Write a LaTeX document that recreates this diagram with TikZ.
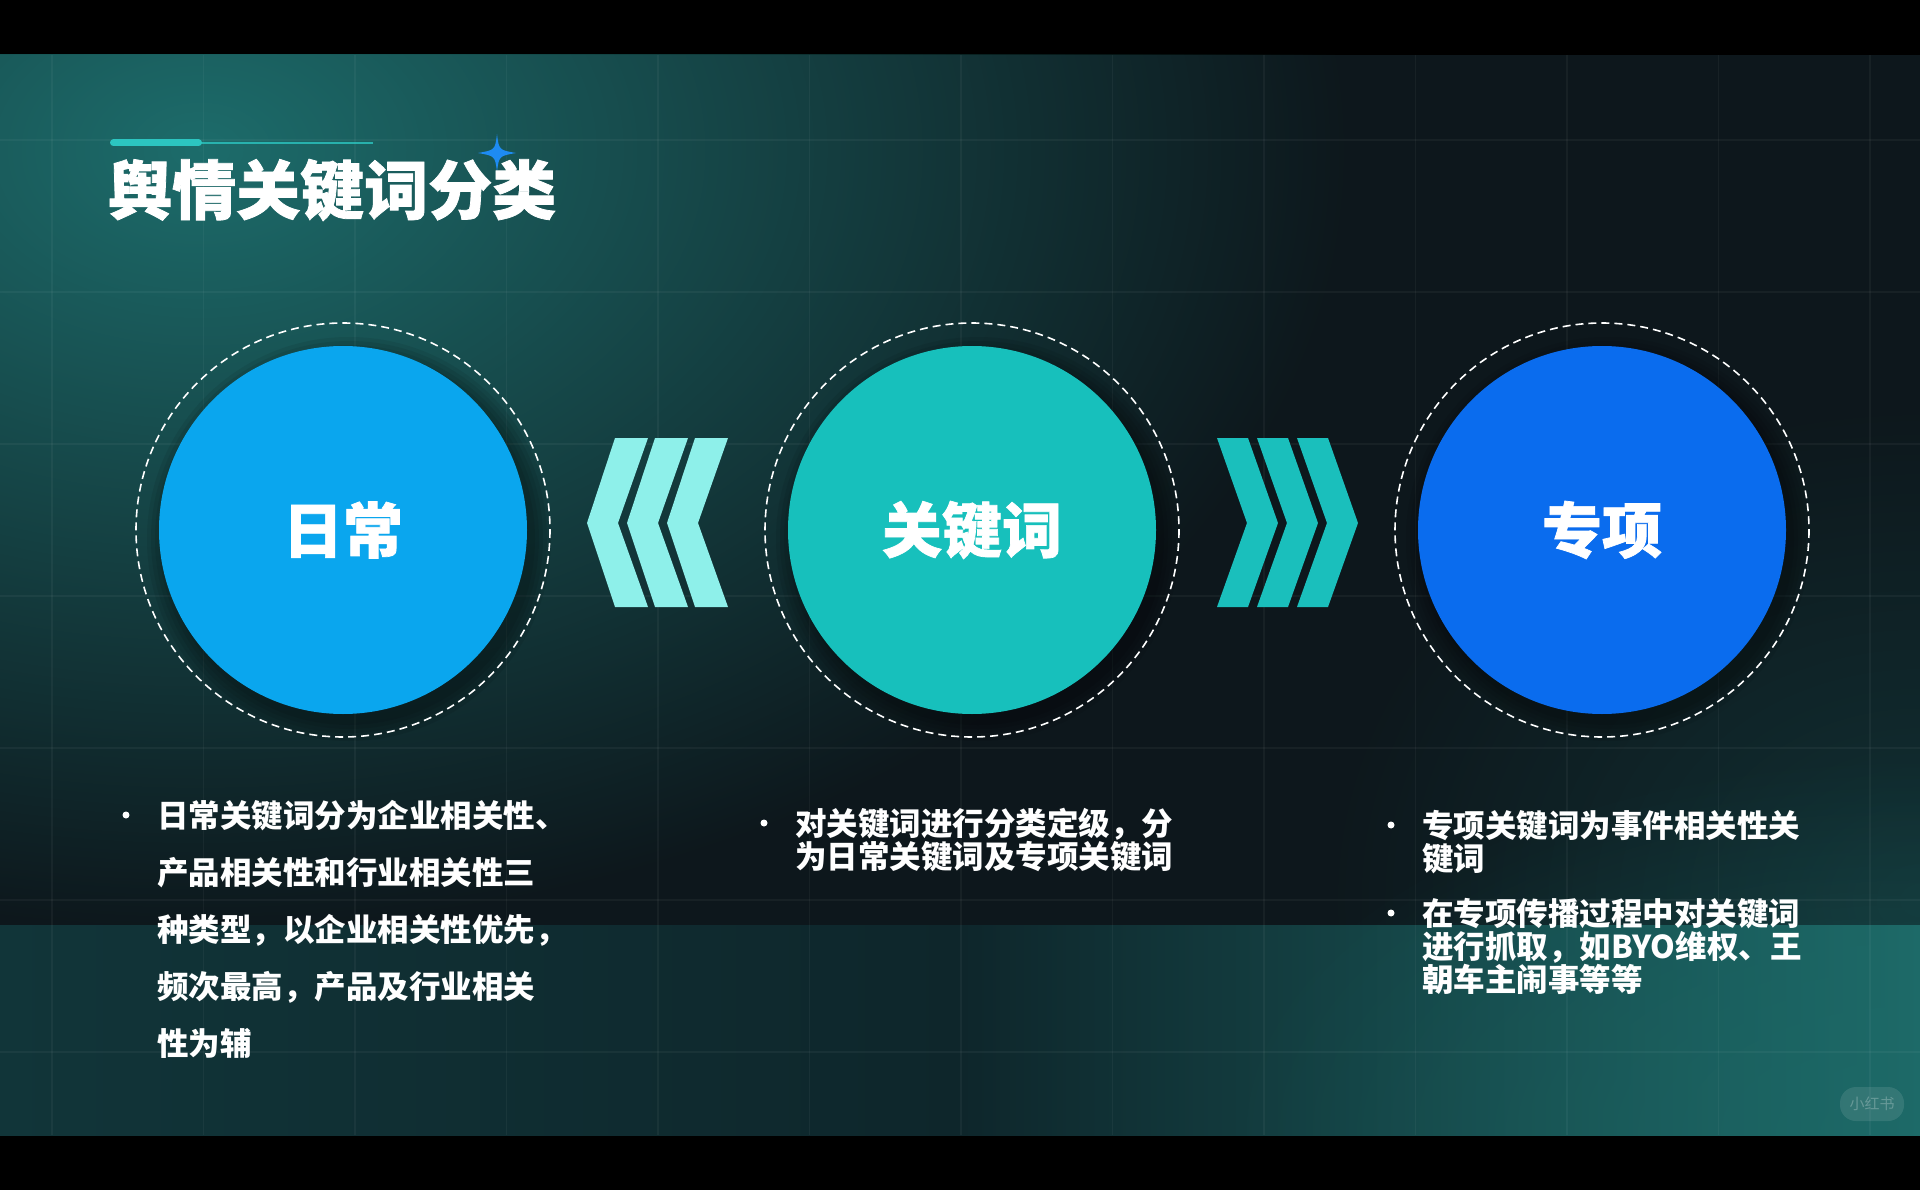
\documentclass[tikz,border=0pt]{standalone}
\usepackage{fontspec}
\newfontfamily\cjk{Noto Sans CJK SC}
\newfontfamily\cjkheavy{Noto Sans CJK SC}[BoldFeatures={FakeBold=1.2}]
\usetikzlibrary{fadings}

\tikzfading[name=glowfade, inner color=transparent!0, outer color=transparent!100]

\definecolor{bgbase}{HTML}{0D171C}
\definecolor{glowteal}{HTML}{1D6C6B}
\definecolor{bandleft}{HTML}{113539}
\definecolor{bandmid}{HTML}{0E262B}
\definecolor{bandright}{HTML}{1D6A68}
\definecolor{dailyblue}{HTML}{0AA6EE}
\definecolor{keyteal}{HTML}{17C0BC}
\definecolor{specialblue}{HTML}{0A6CEE}
\definecolor{chevlight}{HTML}{8EF0EA}
\definecolor{chevdark}{HTML}{1ABFBC}
\definecolor{titleline}{HTML}{2CC5C0}
\definecolor{starblue}{HTML}{1E8BF2}

\tikzset{
  gridline/.style={white, opacity=0.045, line width=1.5pt},
  bigdisc/.style={circle, inner sep=0pt, minimum size=368pt, text=white,
    font=\cjkheavy\bfseries\fontsize{60}{60}\selectfont},
  dashring/.style={draw=white, dash pattern=on 8pt off 5pt, line width=1.6pt},
  looseblock/.style={text=white, inner sep=0pt, anchor=base west, align=left, text width=480pt,
    font=\cjk\bfseries\fontsize{31.5}{57}\selectfont},
  tightblock/.style={looseblock, font=\cjk\bfseries\fontsize{31.5}{33}\selectfont},
  bulletdot/.style={white},
}

\begin{document}
\begin{tikzpicture}[x=1pt,y=-1pt]
\useasboundingbox (0,0) rectangle (1920,1190);
\fill[black] (0,0) rectangle (1920,1190);

% background
\begin{scope}
\clip (0,55) rectangle (1920,1135);
\fill[bgbase] (0,55) rectangle (1920,1135);
\fill[glowteal, path fading=glowfade] (200,150) ellipse (1150 and 780);
\fill[glowteal, path fading=glowfade, opacity=0.3] (1920,900) ellipse (600 and 500);
\shade[left color=bandleft, right color=bandright, middle color=bandmid] (0,925) rectangle (1920,1135);
\fill[bandright, path fading=glowfade, opacity=0.5] (1920,1135) ellipse (700 and 380);
\foreach \i in {0,...,12}
  \draw[gridline] ({52+151.5*\i},55) -- ({52+151.5*\i},1135);
\foreach \j in {0,...,6}
  \draw[gridline] (0,{140+152*\j}) -- (1920,{140+152*\j});
\end{scope}

% title
\draw[titleline, line width=7pt, line cap=round] (113.5,143) -- (198.5,143);
\draw[titleline, line width=2pt, opacity=0.8] (198,143) -- (373,143);
\fill[starblue] (497,134) .. controls (499,150) .. (516,153) .. controls (499,156) .. (497,172)
  .. controls (495,156) .. (478,153) .. controls (495,150) .. (497,134) -- cycle;
\node[anchor=west, inner sep=0pt, text=white, font=\cjkheavy\bfseries\fontsize{64}{64}\selectfont]
  (title) at (108,190) {舆情关键词分类};

% circles
\coordinate (c1) at (343,530);
\coordinate (c2) at (972,530);
\coordinate (c3) at (1602,530);
\foreach \c in {c1,c2,c3}
  \foreach \r in {186,190,...,202}
    \fill[black, opacity=0.07] ([shift={(6,9)}]\c) circle (\r);
\node[bigdisc, fill=dailyblue] (daily) at (c1) {日常};
\node[bigdisc, fill=keyteal] (keyword) at (c2) {关键词};
\node[bigdisc, fill=specialblue] (special) at (c3) {专项};
\draw[dashring] (daily) circle (207);
\draw[dashring] (keyword) circle (207);
\draw[dashring] (special) circle (207);

% chevrons
\foreach \k in {0,1,2}
  \fill[chevlight] ({587+40*\k},523) -- ({615+40*\k},438) -- ({648+40*\k},438)
    -- ({618+40*\k},523) -- ({648+40*\k},607) -- ({615+40*\k},607) -- cycle;
\foreach \k in {0,1,2}
  \fill[chevdark] ({1278+40*\k},523) -- ({1248+40*\k},438) -- ({1217+40*\k},438)
    -- ({1247+40*\k},523) -- ({1217+40*\k},607) -- ({1248+40*\k},607) -- cycle;

% texts
\node[looseblock] (dailytext) at (157,827) {日常关键词分为企业相关性、\\产品相关性和行业相关性三\\种类型，以企业相关性优先，\\频次最高，产品及行业相关\\性为辅};
\node[tightblock] (keytext) at (795,835) {对关键词进行分类定级，分\\为日常关键词及专项关键词};
\node[tightblock] (specialtext) at (1422,837) {专项关键词为事件相关性关\\键词};
\node[tightblock] (specialtexttwo) at (1422,925) {在专项传播过程中对关键词\\进行抓取，如BYO维权、王\\朝车主闹事等等};
\foreach \t in {dailytext,keytext,specialtext,specialtexttwo}
  \fill[bulletdot] ([xshift=-31pt,yshift=12pt]\t.base west) circle (3.5);

% watermark
\node[fill=white, fill opacity=0.1, text opacity=0.25, text=white, rounded corners=16pt,
  minimum width=64pt, minimum height=34pt, inner sep=0pt, font=\cjk\fontsize{15}{15}\selectfont]
  (mark) at (1872,1104) {小红书};
\end{tikzpicture}
\end{document}
